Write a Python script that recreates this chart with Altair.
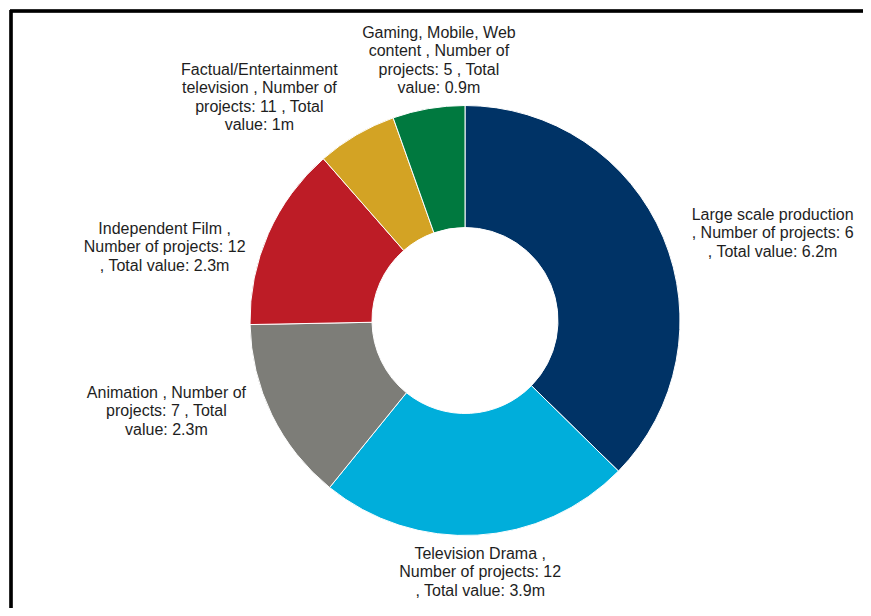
import altair as alt
import pandas as pd

# ---- data ----
categories = [
    "Large scale production",
    "Television Drama",
    "Animation",
    "Independent Film",
    "Factual/Entertainment television",
    "Gaming, Mobile, Web content",
]
total_value_m = [6.2, 3.9, 2.3, 2.3, 1.0, 0.9]
num_projects = [6, 12, 7, 12, 11, 5]
label_lines = [
    ["Large scale production", ", Number of projects: 6", ", Total value: 6.2m"],
    ["Television Drama ,", "Number of projects: 12", ", Total value: 3.9m"],
    ["Animation , Number of", "projects: 7 , Total", "value: 2.3m"],
    ["Independent Film ,", "Number of projects: 12", ", Total value: 2.3m"],
    ["Factual/Entertainment", "television , Number of", "projects: 11 , Total", "value: 1m"],
    ["Gaming, Mobile, Web", "content , Number of", "projects: 5 , Total", "value: 0.9m"],
]
colors = ["#003366", "#00AEDB", "#7D7D78", "#BD1C26", "#D3A324", "#00793F"]

df = pd.DataFrame({
    "category": categories,
    "value": total_value_m,
    "projects": num_projects,
    "label": ["\n".join(l) for l in label_lines],
    "order": list(range(len(categories))),
})

# ---- layout / style ----
W, H = 855, 600
CX, CY = 455, 310.5
R_OUT, R_IN = 215, 93
FONT = "Liberation Sans"
LH = 18.5
# label placement: (radius, dx, dy) – dy refers to the block centre
placement = {
    "Large scale production": (300, 31, 29),
    "Television Drama": (250, 1, 2),
    "Animation": (300, -29, -41),
    "Independent Film": (300, -26, 48),
    "Factual/Entertainment television": (300, -54, 36),
    "Gaming, Mobile, Web content": (260, 18, -4),
}

base = alt.Chart(df)

donut = base.mark_arc(
    outerRadius=R_OUT, innerRadius=R_IN, stroke="white", strokeWidth=1
).encode(
    theta=alt.Theta("value:Q", stack=True),
    order=alt.Order("order:Q"),
    color=alt.Color(
        "category:N",
        scale=alt.Scale(domain=categories, range=colors),
        legend=None,
    ),
    x=alt.value(CX),
    y=alt.value(CY),
)

label_base = base.transform_window(
    cum="sum(value)", sort=[alt.SortField("order")]
).transform_joinaggregate(
    total="sum(value)"
).transform_calculate(
    mid="(datum.cum - datum.value / 2) / datum.total * 2 * PI"
)

label_layers = []
for cat, lines in zip(categories, label_lines):
    r, dx, dy = placement[cat]
    dy_block = dy - (len(lines) - 1) / 2 * LH
    label_layers.append(
        label_base.transform_filter(alt.datum.category == cat).mark_text(
            radius=r, dx=dx, dy=dy_block, align="center", baseline="middle",
            lineBreak="\n", font=FONT, fontSize=16, lineHeight=LH,
            color="#1E1E1E",
        ).encode(
            theta=alt.Theta("mid:Q", scale=None),
            text="label:N",
            x=alt.value(CX),
            y=alt.value(CY),
        )
    )

frame_top = base.mark_rule(color="black", strokeWidth=2.5).encode(
    x=alt.value(0), x2=alt.value(W), y=alt.value(1)
)
frame_left = base.mark_rule(color="black", strokeWidth=2.5).encode(
    x=alt.value(1), y=alt.value(0), y2=alt.value(H)
)

chart = alt.layer(donut, *label_layers, frame_top, frame_left).properties(
    width=W, height=H,
    autosize=alt.AutoSizeParams(type="fit", contains="padding"),
    padding=0,
    background="white",
).configure_view(stroke=None)

chart.save("out.html", embed_options={"renderer": "svg", "actions": False})
